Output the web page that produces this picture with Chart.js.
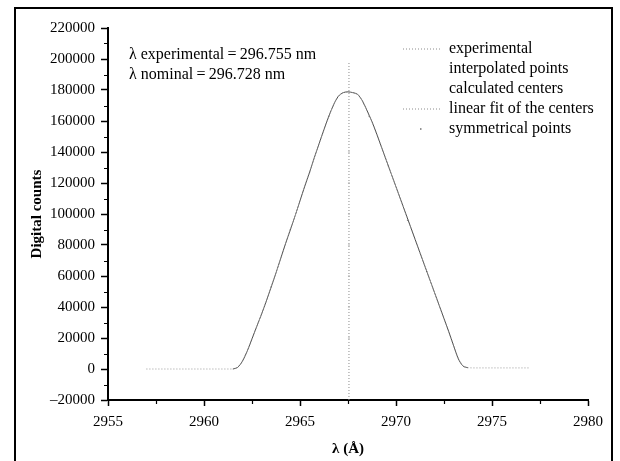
<!DOCTYPE html>
<html>
<head>
<meta charset="utf-8">
<script src="https://cdn.jsdelivr.net/npm/chart.js@4/dist/chart.umd.min.js"></script>
<style>
  html, body { margin: 0; padding: 0; background: #fff; }
  #wrap { position: relative; width: 620px; height: 461px; overflow: hidden; }
  #wrap canvas { position: absolute; left: 0; top: 0; }
  #frame { position: absolute; left: 14px; top: 7px; width: 599px; height: 480px;
           border: 2px solid #000; box-sizing: border-box; pointer-events: none; }
</style>
</head>
<body>
<div id="wrap">
  <canvas id="chart" width="620" height="461"></canvas>
  <div id="frame"></div>
</div>
<script>
// Line profile: wavelength (Å) and detector counts
const wavelength = [
  2957.00, 2957.50, 2958.00, 2958.50, 2959.00, 2959.50, 2960.00, 2960.50, 2961.00, 2961.50,
  2961.75, 2962.00, 2962.25, 2962.50, 2962.75, 2963.00, 2963.25, 2963.50, 2963.75, 2964.00,
  2964.25, 2964.50, 2964.75, 2965.00, 2965.25, 2965.50, 2965.75, 2966.00, 2966.25, 2966.50,
  2966.75, 2967.00, 2967.25, 2967.50, 2967.75, 2968.00, 2968.25, 2968.50, 2968.75, 2969.00,
  2969.25, 2969.50, 2969.75, 2970.00, 2970.25, 2970.50, 2970.75, 2971.00, 2971.25, 2971.50,
  2971.75, 2972.00, 2972.25, 2972.50, 2972.75, 2973.00, 2973.25, 2973.50, 2973.75, 2974.00,
  2974.50, 2975.00, 2975.50, 2976.00, 2976.50, 2977.00
];
const counts = [
  0, 0, 0, 0, 0, 0, 0, 0, 0, 0,
  1000, 5000, 11500, 19500, 27500, 35500, 44000, 53000, 62000, 71500,
  81000, 90000, 99000, 108500, 118000, 127000, 136500, 145500, 154500, 163000,
  170500, 176000, 178300, 178800, 178300, 177200, 173000, 166500, 159500, 151500,
  143000, 134500, 126000, 117500, 109000, 100500, 92000, 83500, 75000, 66500,
  58000, 49500, 41000, 32500, 24000, 15000, 6500, 1800, 800, 700,
  700, 700, 700, 700, 700, 700
];
// Wavelength span covered by the interpolation
const interpolatedRange = [2961.5, 2973.75];

// Centres of the line found at several heights, and their linear fit
const centerWavelength = [2967.55, 2967.55, 2967.55, 2967.55, 2967.55, 2967.55, 2967.55];
const centerCounts = [20000, 40000, 60000, 80000, 100000, 120000, 140000];
const fitWavelength = [2967.55, 2967.55];
const fitCounts = [-20000, 198000];

// Pairs of points at equal height on both flanks
const symWavelength = [2963.5, 2964.5, 2965.5, 2966.5, 2968.6, 2969.6, 2970.6, 2971.6];
const symCounts = [53000, 90000, 127000, 163000, 163000, 131000, 96000, 63000];

const seriesNames = ['experimental', 'interpolated points', 'calculated centers',
                     'linear fit of the centers', 'symmetrical points'];
const xTicks = [2955, 2960, 2965, 2970, 2975, 2980];
const yTicks = [-20000, 0, 20000, 40000, 60000, 80000, 100000, 120000,
                140000, 160000, 180000, 200000, 220000];
const noteLines = ['λ experimental\u2009=\u2009296.755 nm', 'λ nominal\u2009=\u2009296.728 nm'];

const pts = (xs, ys) => xs.map((x, i) => ({ x: x, y: ys[i] }));
const profile = pts(wavelength, counts);
const interpolated = profile.filter(p => p.x >= interpolatedRange[0] && p.x <= interpolatedRange[1]);

const SERIF = "'Liberation Serif', 'Times New Roman', serif";
Chart.defaults.font.family = SERIF;
Chart.defaults.font.size = 15;
Chart.defaults.color = '#000';

// Small unlabelled ticks halfway between the labelled ones
const minorTicks = {
  id: 'minorTicks',
  afterDraw(chart) {
    const { ctx } = chart;
    const x = chart.scales.x, y = chart.scales.y;
    ctx.save();
    ctx.strokeStyle = '#000';
    ctx.lineWidth = 1.2;
    ctx.beginPath();
    for (let i = 0; i < xTicks.length - 1; i++) {
      const px = Math.round(x.getPixelForValue((xTicks[i] + xTicks[i + 1]) / 2)) + 0.5;
      ctx.moveTo(px, x.top);
      ctx.lineTo(px, x.top + 4);
    }
    for (let i = 0; i < yTicks.length - 1; i++) {
      const py = Math.round(y.getPixelForValue((yTicks[i] + yTicks[i + 1]) / 2)) + 0.5;
      ctx.moveTo(y.right, py);
      ctx.lineTo(y.right - 4, py);
    }
    ctx.stroke();
    ctx.restore();
  }
};

// Wavelength note in the upper left of the plot
const notes = {
  id: 'notes',
  afterDraw(chart) {
    const { ctx, chartArea } = chart;
    ctx.save();
    ctx.font = '16px ' + SERIF;
    ctx.fillStyle = '#000';
    ctx.textAlign = 'left';
    ctx.textBaseline = 'middle';
    noteLines.forEach((t, i) => ctx.fillText(t, chartArea.left + 21, chartArea.top + 27 + i * 20));
    ctx.restore();
  }
};

// Keep the legend inside the plot, in its upper right part
const legendPlacement = {
  id: 'legendPlacement',
  afterLayout(chart) {
    const lg = chart.legend;
    if (!lg) return;
    const w = lg.width;
    lg.left = 399;
    lg.right = lg.left + w;
    lg.top = 37;
    lg.bottom = lg.top + 200;
  }
};

new Chart(document.getElementById('chart'), {
  type: 'scatter',
  data: {
    datasets: [
      {
        label: seriesNames[0], data: profile, showLine: true,
        borderColor: '#9a9a9a', borderWidth: 1, borderDash: [1, 2],
        pointRadius: 0, tension: 0,
        legendSample: { color: '#8c8c8c', dash: [1, 2], width: 1 }
      },
      {
        label: seriesNames[1], data: interpolated, showLine: true,
        borderColor: '#4a4a4a', borderWidth: 1,
        pointRadius: 0, tension: 0.3,
        legendSample: { color: 'rgba(0,0,0,0)', dash: [], width: 1 }
      },
      {
        label: seriesNames[2], data: pts(centerWavelength, centerCounts), showLine: false,
        pointStyle: 'line', pointRadius: 1, borderColor: '#aaa', borderWidth: 1,
        legendSample: { color: 'rgba(0,0,0,0)', dash: [], width: 1 }
      },
      {
        label: seriesNames[3], data: pts(fitWavelength, fitCounts), showLine: true,
        borderColor: '#8c8c8c', borderWidth: 1, borderDash: [1, 2],
        pointRadius: 0,
        legendSample: { color: '#8c8c8c', dash: [1, 2], width: 1 }
      },
      {
        label: seriesNames[4], data: pts(symWavelength, symCounts), showLine: false,
        pointRadius: 0.7, backgroundColor: '#8a8a8a', borderWidth: 0,
        legendSample: { color: '#707070', dash: [0, 17, 1.5, 60], width: 1.5 }
      }
    ]
  },
  options: {
    responsive: false,
    animation: false,
    events: [],
    layout: { padding: { left: 0, top: 28, right: 32, bottom: 0 } },
    plugins: {
      tooltip: { enabled: false },
      legend: {
        position: 'chartArea',
        align: 'start',
        labels: {
          usePointStyle: true,
          pointStyleWidth: 38,
          padding: 4,
          color: '#000',
          font: { family: SERIF, size: 16 },
          generateLabels(chart) {
            return chart.data.datasets.map((ds, i) => ({
              text: ds.label,
              datasetIndex: i,
              pointStyle: 'line',
              fillStyle: 'rgba(0,0,0,0)',
              strokeStyle: ds.legendSample.color,
              lineWidth: ds.legendSample.width,
              lineDash: ds.legendSample.dash,
              hidden: false
            }));
          }
        }
      }
    },
    scales: {
      x: {
        type: 'linear',
        min: xTicks[0], max: xTicks[xTicks.length - 1],
        afterBuildTicks(scale) { scale.ticks = xTicks.map(v => ({ value: v })); },
        afterFit(scale) { scale.height = 61; },
        ticks: { padding: 7, color: '#000', font: { size: 15 }, callback: v => String(v) },
        grid: { drawOnChartArea: false, drawTicks: true, tickLength: 6, tickWidth: 1.5, tickColor: '#000' },
        border: { display: true, color: '#000', width: 2 },
        title: { display: true, text: 'λ (Å)', color: '#000',
                 font: { size: 15, weight: 'bold' }, padding: { top: 0, bottom: 3 } }
      },
      y: {
        type: 'linear',
        min: yTicks[0], max: yTicks[yTicks.length - 1],
        afterBuildTicks(scale) { scale.ticks = yTicks.map(v => ({ value: v })); },
        afterFit(scale) { scale.width = 108; },
        ticks: { padding: 6, color: '#000', font: { size: 15 },
                 callback: v => (v < 0 ? '\u2013' + Math.abs(v) : String(v)) },
        grid: { drawOnChartArea: false, drawTicks: true, tickLength: 7, tickWidth: 1.5, tickColor: '#000' },
        border: { display: true, color: '#000', width: 2 },
        title: { display: true, text: 'Digital counts', color: '#000',
                 font: { size: 15, weight: 'bold' }, padding: { top: 28, bottom: 0 } }
      }
    }
  },
  plugins: [minorTicks, notes, legendPlacement]
});
</script>
</body>
</html>
